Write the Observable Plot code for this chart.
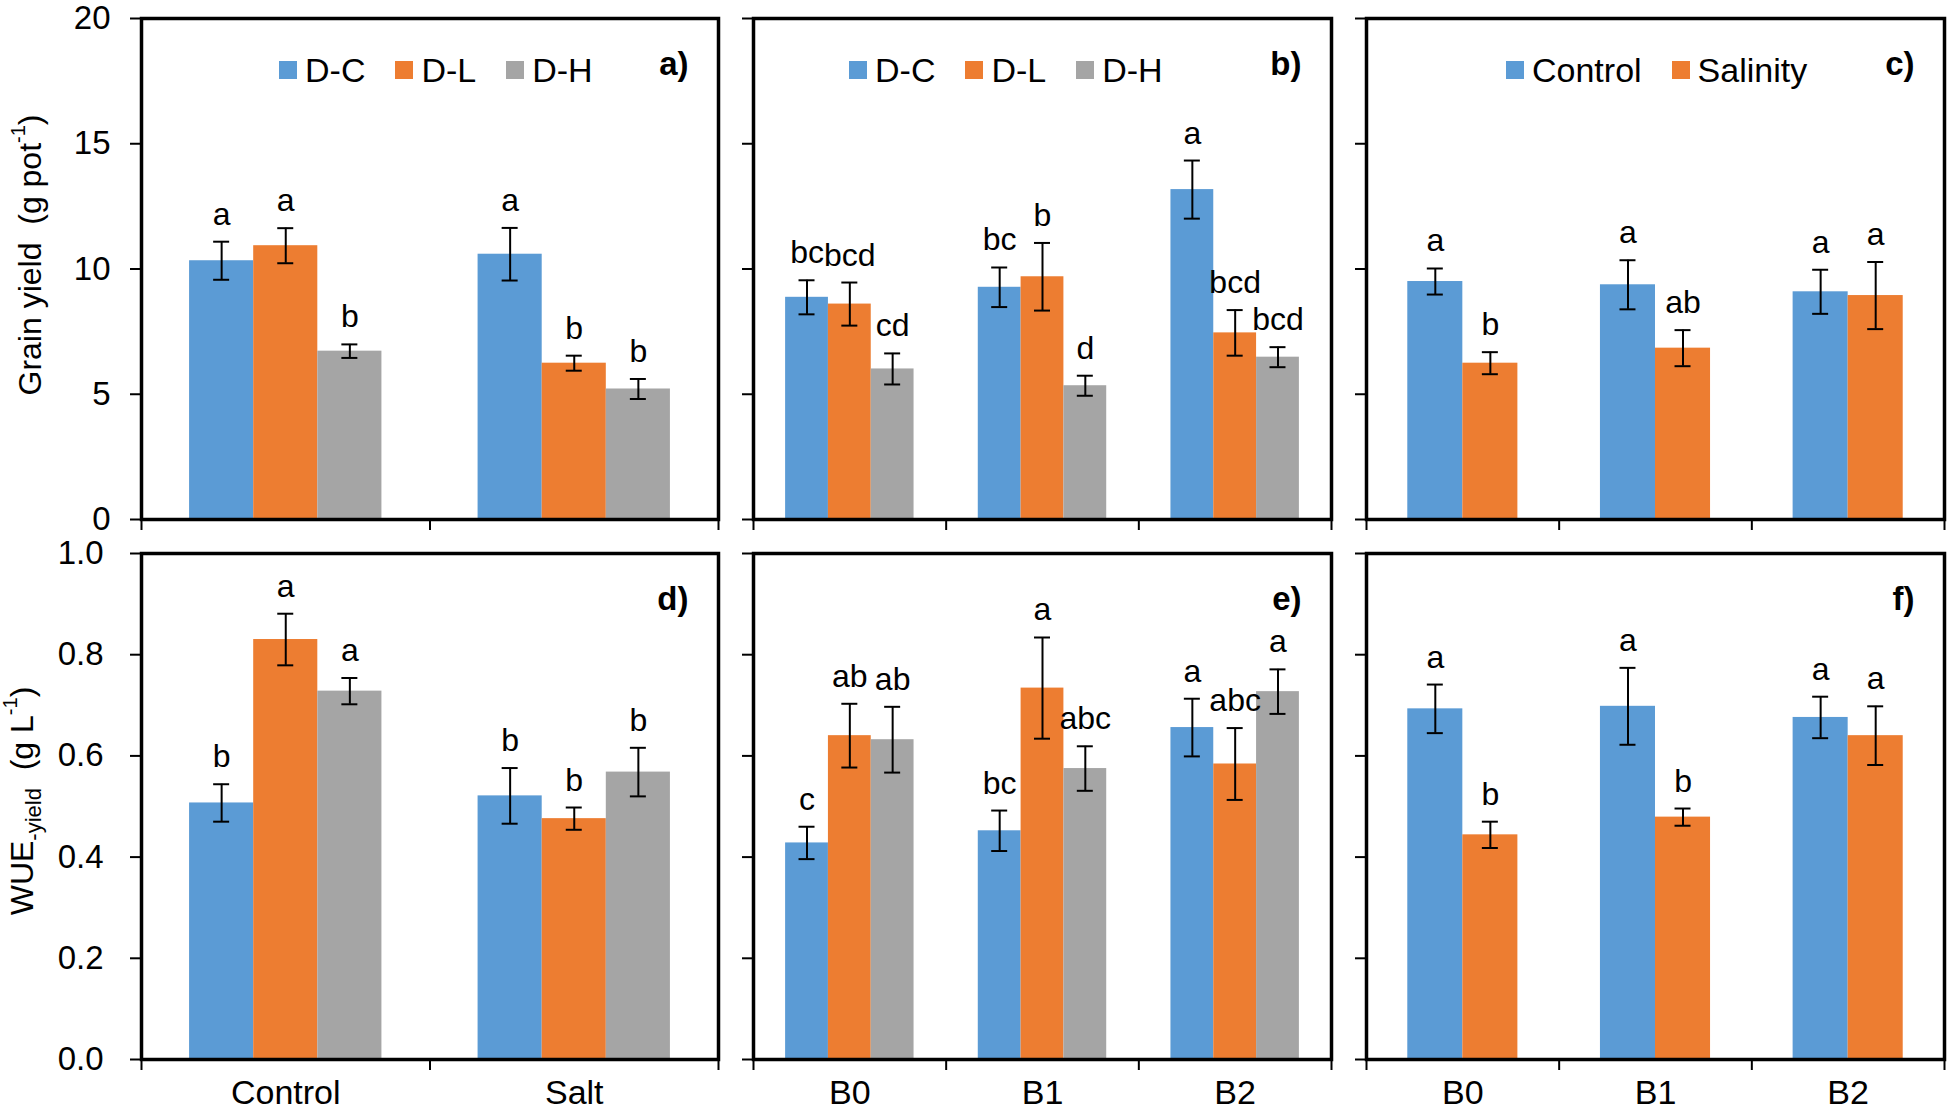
<!DOCTYPE html>
<html><head><meta charset="utf-8">
<script src="https://cdn.jsdelivr.net/npm/d3@7"></script>
<script src="https://cdn.jsdelivr.net/npm/@observablehq/plot@0.6"></script>
<style>
html,body{margin:0;padding:0;background:#fff;}
#root{position:relative;width:1947px;height:1113px;overflow:hidden;font-family:"Liberation Sans",Arial,sans-serif;color:#000;background:#fff;}
.panel{position:absolute;}
.legend{position:absolute;display:flex;align-items:center;gap:30px;font-size:34px;line-height:36px;white-space:nowrap;}
.legend .item{display:flex;align-items:center;gap:8px;}
.legend .sw{width:18px;height:18px;display:inline-block;}
.ytitle{position:absolute;transform:translate(-50%,-50%) rotate(-90deg);font-size:32px;white-space:nowrap;line-height:1;}
.ytitle sup{font-size:20px;vertical-align:0.8em;line-height:0;}
.ytitle sub{font-size:22px;vertical-align:-0.35em;line-height:0;}
</style></head><body><div id="root"></div>
<script>
// ---------- data ----------
const treatments = ["Control", "Salt"];
const boronLevels = ["B0", "B1", "B2"];
const droughtSeries = ["D-C", "D-L", "D-H"];
const salinitySeries = ["Control", "Salinity"];
const droughtColors = ["#5B9BD5", "#ED7D31", "#A5A5A5"];
const salinityColors = ["#5B9BD5", "#ED7D31"];
const yieldTicks = [0, 5, 10, 15, 20];
const wueTicks = [0, 0.2, 0.4, 0.6, 0.8, 1.0];

// a) grain yield, treatment x drought
const yieldA = [[10.33, 10.93, 6.72], [10.59, 6.24, 5.21]];
const yieldAErr = [[0.76, 0.70, 0.27], [1.05, 0.30, 0.40]];
const yieldALetters = [["a", "a", "b"], ["a", "b", "b"]];
// b) grain yield, boron x drought
const yieldB = [[8.87, 8.60, 6.01], [9.27, 9.69, 5.34], [13.17, 7.45, 6.48]];
const yieldBErr = [[0.68, 0.86, 0.62], [0.79, 1.35, 0.40], [1.16, 0.91, 0.40]];
const yieldBLetters = [["bc", "bcd", "cd"], ["bc", "b", "d"], ["a", "bcd", "bcd"]];
// c) grain yield, boron x salinity
const yieldC = [[9.50, 6.24], [9.37, 6.84], [9.09, 8.94]];
const yieldCErr = [[0.52, 0.44], [0.98, 0.72], [0.88, 1.34]];
const yieldCLetters = [["a", "b"], ["a", "ab"], ["a", "a"]];
// d) WUE, treatment x drought
const wueD = [[0.507, 0.830, 0.728], [0.521, 0.476, 0.568]];
const wueDErr = [[0.037, 0.051, 0.026], [0.055, 0.022, 0.048]];
const wueDLetters = [["b", "a", "a"], ["b", "b", "b"]];
// e) WUE, boron x drought
const wueE = [[0.428, 0.640, 0.632], [0.452, 0.734, 0.575], [0.656, 0.584, 0.727]];
const wueEErr = [[0.032, 0.063, 0.065], [0.040, 0.100, 0.044], [0.057, 0.071, 0.044]];
const wueELetters = [["c", "ab", "ab"], ["bc", "a", "abc"], ["a", "abc", "a"]];
// f) WUE, boron x salinity
const wueF = [[0.693, 0.444], [0.698, 0.479], [0.676, 0.640]];
const wueFErr = [[0.048, 0.026], [0.076, 0.017], [0.041, 0.058]];
const wueFLetters = [["a", "b"], ["a", "b"], ["a", "a"]];

// ---------- drawing ----------
const FONT = '"Liberation Sans", Arial, sans-serif';
const root = document.getElementById("root");

function panel(o) {
  const n = o.series.length;
  const gapW = 1.5;               // Excel-like gap width (fraction of bar width)
  const bw = 1 / (n + gapW);
  const rows = [];
  o.groups.forEach((g, gi) => o.series.forEach((s, si) => {
    const x1 = gi + gapW * bw / 2 + si * bw;
    rows.push({group: g, series: s, value: o.values[gi][si], err: o.errors[gi][si],
      letter: o.letters[gi][si], x1, x2: x1 + bw, xc: x1 + bw / 2});
  }));
  const capHalf = 8 / (o.plotW / o.groups.length);
  const marks = [
    Plot.rectY(rows, {x1: "x1", x2: "x2", y1: 0, y2: "value", fill: "series"}),
    Plot.ruleX(rows, {x: "xc", y1: d => d.value - d.err, y2: d => d.value + d.err, stroke: "#000", strokeWidth: 2}),
    Plot.ruleY(rows, {x1: d => d.xc - capHalf, x2: d => d.xc + capHalf, y: d => d.value - d.err, stroke: "#000", strokeWidth: 2}),
    Plot.ruleY(rows, {x1: d => d.xc - capHalf, x2: d => d.xc + capHalf, y: d => d.value + d.err, stroke: "#000", strokeWidth: 2}),
    Plot.text(rows, {x: "xc", y: d => d.value + d.err, text: "letter", lineAnchor: "bottom", dy: -17, fontSize: 32, fill: "#000"}),
    Plot.axisY({ticks: o.ticks, tickSize: 11, tickPadding: o.yPad, strokeWidth: 2, label: null, fontSize: 33,
      tickFormat: o.showY ? o.fmt : () => ""}),
    Plot.axisX({ticks: d3.range(o.groups.length + 1), tickSize: 11, strokeWidth: 2, label: null, tickFormat: () => ""}),
    Plot.frame({stroke: "#000", strokeWidth: 3.5}),
    Plot.text([o.tag], {frameAnchor: "top-right", dx: -30, dy: 46, lineAnchor: "middle", text: d => d,
      fontWeight: "bold", fontSize: 33, fill: "#000"})
  ];
  if (o.showX) marks.push(Plot.axisX({ticks: o.groups.map((g, i) => i + 0.5), tickSize: 0, tickPadding: 20,
    label: null, fontSize: 34, tickFormat: v => o.groups[Math.floor(v)]}));
  const chart = Plot.plot({
    width: o.mL + o.plotW + o.mR,
    height: o.mT + o.plotH + o.mB,
    marginLeft: o.mL, marginRight: o.mR, marginTop: o.mT, marginBottom: o.mB,
    style: {fontFamily: FONT, fontSize: "32px", color: "#000", background: "transparent", overflow: "visible", maxWidth: "none"},
    x: {domain: [0, o.groups.length], axis: null, label: null},
    y: {domain: [o.ticks[0], o.ticks[o.ticks.length - 1]], axis: null, label: null},
    color: {domain: o.series, range: o.colors},
    marks
  });
  const div = document.createElement("div");
  div.className = "panel";
  div.style.left = o.left + "px";
  div.style.top = o.top + "px";
  div.appendChild(chart);
  root.appendChild(div);
}

function legend(series, colors, left, top) {
  const div = document.createElement("div");
  div.className = "legend";
  div.style.left = left + "px";
  div.style.top = top + "px";
  series.forEach((s, i) => {
    const it = document.createElement("span");
    it.className = "item";
    const sw = document.createElement("span");
    sw.className = "sw";
    sw.style.background = colors[i];
    const t = document.createElement("span");
    t.textContent = s;
    it.appendChild(sw); it.appendChild(t);
    div.appendChild(it);
  });
  root.appendChild(div);
}

const fmtInt = d3.format("d"), fmt1 = d3.format(".1f");
const topRow = {top: 0, mT: 18, plotH: 501, mB: 30, ticks: yieldTicks, fmt: fmtInt, yPad: 20, showX: false};
const botRow = {top: 530, mT: 23, plotH: 506, mB: 70, ticks: wueTicks, fmt: fmt1, yPad: 27, showX: true};
const col1 = {left: 0, mL: 141, plotW: 577, mR: 10, showY: true};
const col2 = {left: 713, mL: 40, plotW: 578, mR: 10, showY: false};
const col3 = {left: 1326, mL: 40, plotW: 578, mR: 3, showY: false};

panel({...topRow, ...col1, groups: treatments, series: droughtSeries, colors: droughtColors,
  values: yieldA, errors: yieldAErr, letters: yieldALetters, tag: "a)"});
panel({...topRow, ...col2, groups: boronLevels, series: droughtSeries, colors: droughtColors,
  values: yieldB, errors: yieldBErr, letters: yieldBLetters, tag: "b)"});
panel({...topRow, ...col3, groups: boronLevels, series: salinitySeries, colors: salinityColors,
  values: yieldC, errors: yieldCErr, letters: yieldCLetters, tag: "c)"});
panel({...botRow, ...col1, groups: treatments, series: droughtSeries, colors: droughtColors,
  values: wueD, errors: wueDErr, letters: wueDLetters, tag: "d)"});
panel({...botRow, ...col2, groups: boronLevels, series: droughtSeries, colors: droughtColors,
  values: wueE, errors: wueEErr, letters: wueELetters, tag: "e)"});
panel({...botRow, ...col3, groups: boronLevels, series: salinitySeries, colors: salinityColors,
  values: wueF, errors: wueFErr, letters: wueFLetters, tag: "f)"});

legend(droughtSeries, droughtColors, 279, 52);
legend(droughtSeries, droughtColors, 849, 52);
legend(salinitySeries, salinityColors, 1506, 52);

const t1 = document.createElement("div");
t1.className = "ytitle";
t1.style.left = "30px"; t1.style.top = "255px";
t1.innerHTML = "Grain yield&nbsp; (g pot<sup>-1</sup>)";
root.appendChild(t1);
const t2 = document.createElement("div");
t2.className = "ytitle";
t2.style.left = "22px"; t2.style.top = "801px";
t2.innerHTML = "WUE<sub>-yield</sub>&nbsp; (g L<sup>-1</sup>)";
root.appendChild(t2);
</script></body></html>
